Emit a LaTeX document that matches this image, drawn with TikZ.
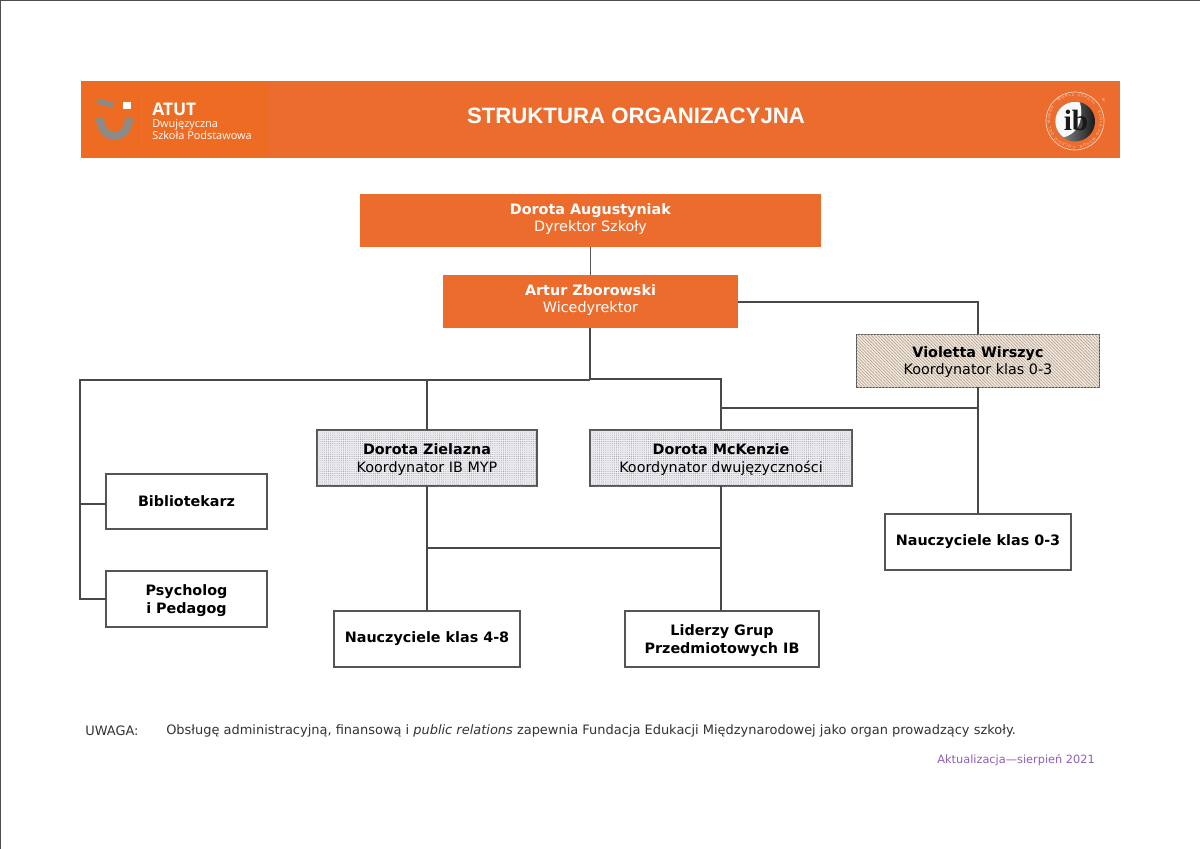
\documentclass[tikz,border=0pt]{standalone}
\usepackage{fontspec}
\setmainfont{DejaVu Sans}
\newfontfamily\titlefont{Liberation Sans}
\newfontfamily\logofont{Open Sans}
\newfontfamily\ibfont{Liberation Serif}
\usetikzlibrary{positioning}
\usetikzlibrary{patterns.meta}
\usetikzlibrary{decorations.text}
\definecolor{bannerorange}{HTML}{EC6C2E}
\definecolor{logoorange}{HTML}{EE6B24}
\definecolor{logogrey}{HTML}{8E8A86}
\definecolor{boxline}{HTML}{555555}
\definecolor{linkline}{HTML}{484848}
\definecolor{hatchbase}{HTML}{F3E9DE}
\definecolor{hatchline}{HTML}{B5A493}
\definecolor{dotbase}{HTML}{EDEDF2}
\definecolor{dotline}{HTML}{8E8E96}
\definecolor{notegrey}{HTML}{333333}
\definecolor{updatepurple}{HTML}{8A62B4}
\definecolor{ringcream}{HTML}{F8D9C6}
\newcommand{\dropline}{\rule{0pt}{10.6pt}}
\newcommand{\liftline}{\rule[-4.2pt]{0pt}{0pt}}
\tikzset{
    orangebox/.style={fill=bannerorange, text=white, align=center, inner sep=0pt, outer sep=0pt, font=\fontsize{10.75pt}{12.9pt}\selectfont},
    plainbox/.style={draw=boxline, line width=1.5pt, fill=white, text=black, align=center, inner sep=0pt, outer sep=0pt, font=\fontsize{10.75pt}{12.9pt}\selectfont\bfseries},
    dotbox/.style={draw=boxline, line width=1.5pt, fill=dotbase, postaction={pattern={Dots[distance=1.6pt,radius=0.35pt]}, pattern color=dotline}, align=center, inner sep=0pt, outer sep=0pt, font=\fontsize{10.75pt}{12.9pt}\selectfont},
    hatchbox/.style={draw=boxline, line width=0.7pt, fill=hatchbase, postaction={pattern={Lines[angle=-45,distance=1.7pt,line width=0.5pt]}, pattern color=hatchline}, align=center, inner sep=0pt, outer sep=0pt, font=\fontsize{10.75pt}{12.9pt}\selectfont},
    link/.style={draw=linkline, line width=1.5pt},
}
\begin{document}
\begin{tikzpicture}[x=0.75pt, y=-0.75pt]
    \useasboundingbox (0,0) rectangle (1200,849);
    \fill[white] (0,0) rectangle (1200,849);

    % Page edge
    \draw[black!70, line width=0.7pt] (0.4,849) -- (0.4,0.4) -- (1200,0.4);

    % Banner
    \fill[bannerorange] (81,81) rectangle (1120,158);
    \fill[logoorange] (81,81) rectangle (267,158);
    \node at (636,115.5) (title) [text=white, font=\titlefont\fontsize{16.65pt}{20pt}\selectfont\bfseries] {STRUKTURA ORGANIZACYJNA};

    % Logo
    \draw[logogrey, line width=6pt] (100,118) arc[start angle=180, end angle=0, x radius=14.5, y radius=18];
    \draw[logogrey, line width=4pt] (97,101) -- (113,105);
    \fill[white] (123,102) rectangle (131,109);
    \draw[logogrey!70!orange, line width=0.6pt] (141.5,95) -- (141.5,145);
    \node at (152,109) (atut) [anchor=west, inner sep=0pt, text=white, font=\logofont\fontsize{13pt}{13pt}\selectfont\bfseries] {ATUT};
    \node at (152,124.5) (logo1) [anchor=west, inner sep=0pt, text=white, font=\logofont\fontsize{8.2pt}{10pt}\selectfont] {Dwujęzyczna};
    \node at (152,135.5) (logo2) [anchor=west, inner sep=0pt, text=white, font=\logofont\fontsize{8.2pt}{10pt}\selectfont] {Szkoła Podstawowa};

    % IB badge
    \draw[ringcream, line width=0.5pt] (1075,121) circle (29);
    \shade[left color=black!40, right color=black!90] (1075,121.5) circle (20);
    \fill[white!95!gray] (1080,102.5) arc[start angle=285, end angle=125, radius=19.5] .. controls (1082,132) and (1083,115) .. cycle;
    \node at (1076,120) (ib) [text=black!90, font=\ibfont\fontsize{22pt}{22pt}\selectfont\bfseries] {ib};
    \path[decorate, decoration={text along path, text align=fit to path, text={|\titlefont\fontsize{2.7pt}{3pt}\selectfont\color{ringcream}|COLEGIO DEL MUNDO · WORLD SCHOOL · ECOLE DU MONDE · }}]
        (1075,146) arc[start angle=90, end angle=449, radius=25];
    \node at (1103.5,100) (reg) [text=ringcream, font=\fontsize{3pt}{3pt}\selectfont] {®};

    % Nodes
    \node at (590.5,220.5) (director) [orangebox, minimum width=461*0.75pt, minimum height=53*0.75pt] {\textbf{Dorota Augustyniak}\\Dyrektor Szkoły\liftline};
    \node at (590.5,301.5) (deputy) [orangebox, minimum width=295*0.75pt, minimum height=53*0.75pt] {\textbf{Artur Zborowski}\\Wicedyrektor\liftline};
    \node at (978,360.5) (violetta) [hatchbox, minimum width=243*0.75pt, minimum height=53*0.75pt] {\dropline\textbf{Violetta Wirszyc}\\Koordynator klas 0-3};
    \node at (427,458) (zielazna) [dotbox, minimum width=220*0.75pt, minimum height=56*0.75pt] {\dropline\textbf{Dorota Zielazna}\\Koordynator IB MYP};
    \node at (721,458) (mckenzie) [dotbox, minimum width=262*0.75pt, minimum height=56*0.75pt] {\dropline\textbf{Dorota McKenzie}\\Koordynator dwujęzyczności};
    \node at (186.5,501.5) (library) [plainbox, minimum width=161*0.75pt, minimum height=55*0.75pt] {Bibliotekarz};
    \node at (186.5,599) (psych) [plainbox, minimum width=161*0.75pt, minimum height=56*0.75pt] {\dropline Psycholog\\i Pedagog};
    \node at (427,639) (teachers48) [plainbox, minimum width=186*0.75pt, minimum height=56*0.75pt] {Nauczyciele klas 4-8};
    \node at (722,639) (leaders) [plainbox, minimum width=194*0.75pt, minimum height=56*0.75pt] {\dropline Liderzy Grup\\Przedmiotowych IB};
    \node at (978,542) (teachers03) [plainbox, minimum width=186*0.75pt, minimum height=56*0.75pt] {Nauczyciele klas 0-3};

    % Junctions
    \coordinate (deputyout) at (738,302);
    \coordinate (deputyfoot) at (590,328);
    \coordinate (trunkleft) at (590,380);
    \coordinate (trunkright) at (590,379);
    \coordinate (leftbus) at (80,380);
    \coordinate (zielbus) at (427,380);
    \coordinate (mckbus) at (721,379);
    \coordinate (violjoin) at (978,408);
    \coordinate (mckjoin) at (721,408);
    \coordinate (lowleft) at (427,548);
    \coordinate (lowright) at (721,548);
    \coordinate (libjoin) at (80,504);
    \coordinate (psychjoin) at (80,599);

    % Arrows
    \draw[draw=boxline, line width=0.6pt] (director) -- (deputy);
    \draw[link] (deputyout) -| (violetta.north);
    \draw[link] (deputyfoot) -- (trunkleft);
    \draw[link] (trunkleft) -- (leftbus) -- (psychjoin) -- (psych.west);
    \draw[link] (libjoin) -- (libjoin -| library.west);
    \draw[link] (trunkright) -- (mckbus) -- (mckenzie.north);
    \draw[link] (zielbus) -- (zielazna.north);
    \draw[link] (violetta.south) -- (teachers03.north);
    \draw[link] (violjoin) -- (mckjoin);
    \draw[link] (zielazna.south) -- (teachers48.north);
    \draw[link] (mckenzie.south) -- (mckenzie.south |- leaders.north);
    \draw[link] (lowleft) -- (lowright);

    % Note
    \node at (85,731) (noteword) [anchor=west, inner sep=0pt, text=notegrey, font=\fontsize{9.72pt}{11pt}\selectfont] {UWAGA:};
    \node at (166,731) (note) [anchor=west, inner sep=0pt, text=notegrey, font=\fontsize{9.72pt}{11pt}\selectfont] {Obsługę administracyjną, finansową i \textit{public relations} zapewnia Fundacja Edukacji Międzynarodowej jako organ prowadzący szkoły.};
    \node at (1095,760) (update) [anchor=east, inner sep=0pt, text=updatepurple, font=\fontsize{8.5pt}{10pt}\selectfont] {Aktualizacja—sierpień 2021};
\end{tikzpicture}
\end{document}
